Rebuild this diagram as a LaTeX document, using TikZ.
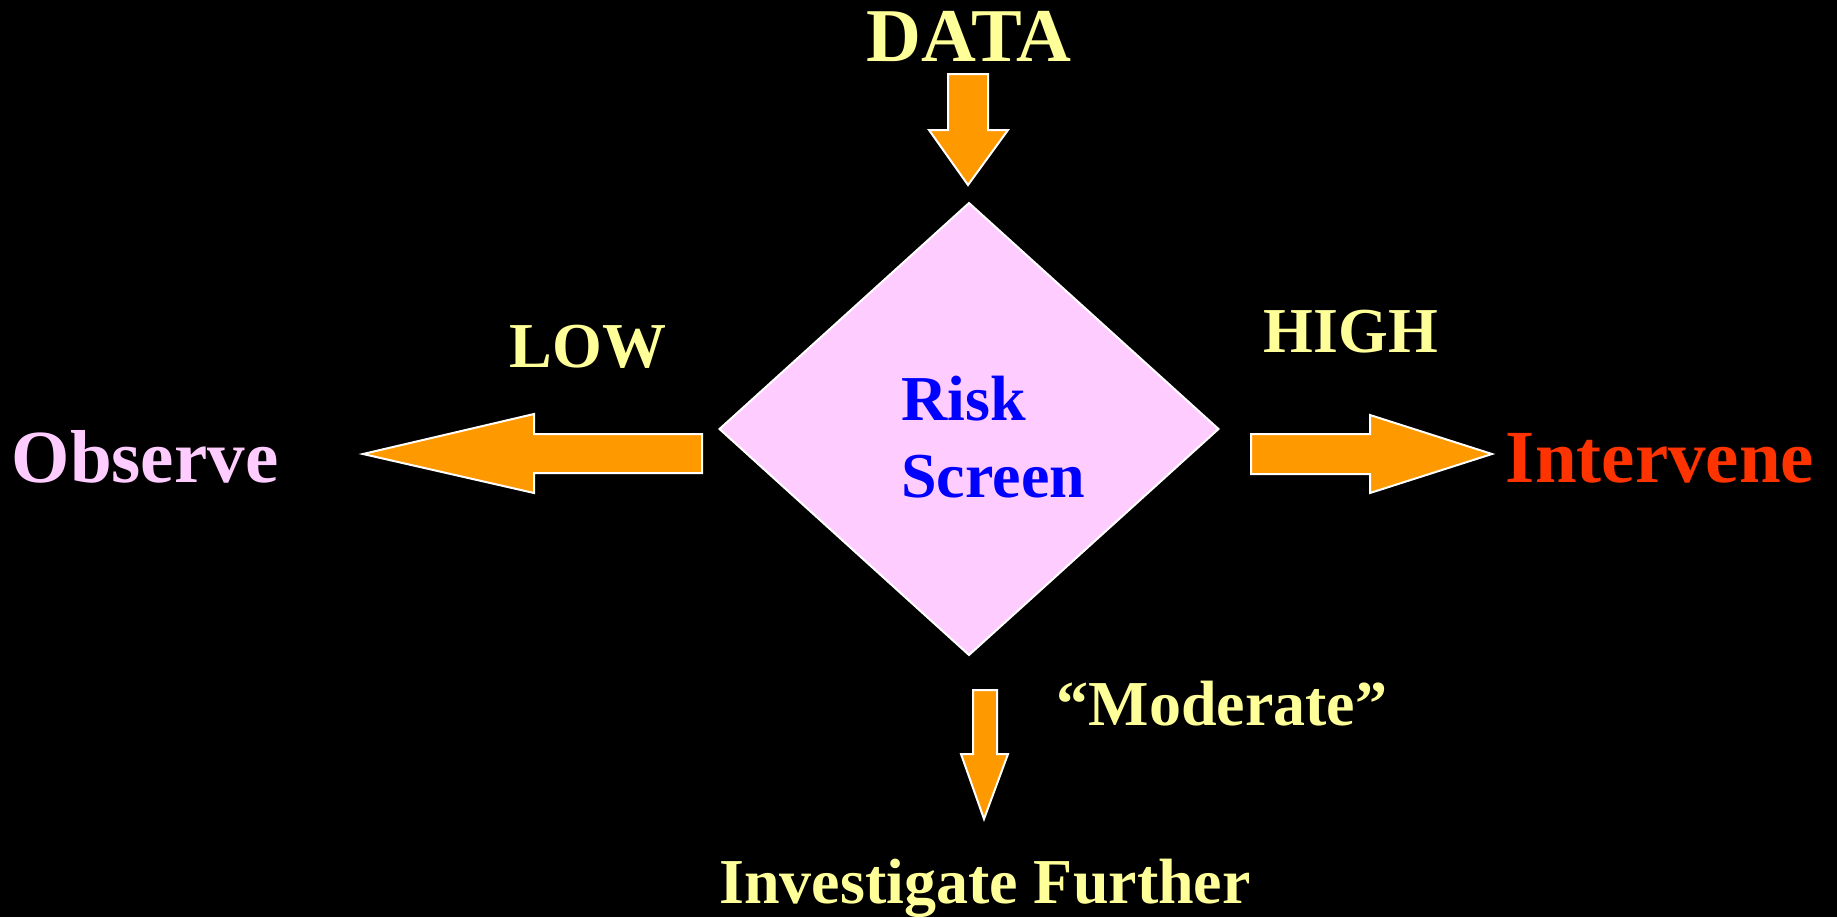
\documentclass[tikz,border=0pt]{standalone}
\usepackage{fontspec}
\setmainfont{Liberation Serif}
\usetikzlibrary{shapes.geometric}
\definecolor{blockorange}{HTML}{FF9900}
\definecolor{diamondpink}{HTML}{FFCCFF}
\definecolor{paleyellow}{HTML}{FFFF99}
\definecolor{riskblue}{HTML}{0000FF}
\definecolor{hotred}{HTML}{FF3300}
\tikzset{
  blockarrow/.style={fill=blockorange, draw=white, line width=1pt, line join=miter},
  lbl/.style={inner sep=0pt, anchor=base, font=\bfseries\fontsize{32}{38}\selectfont},
  biglbl/.style={inner sep=0pt, anchor=base, font=\bfseries\fontsize{38}{46}\selectfont},
}
\begin{document}
\begin{tikzpicture}[x=0.5pt,y=-0.5pt]
\fill[black] (0,0) rectangle (1837,917);
\useasboundingbox (0,0) rectangle (1837,917);

% diamond
\node[diamond, draw=white, line width=1pt, fill=diamondpink, inner sep=0pt, outer sep=0pt,
      minimum width=249.5pt, minimum height=226pt] (screen) at (969,429) {};
\node[inner sep=0pt, anchor=base west, align=left, text=riskblue,
      font=\bfseries\fontsize{32}{38.5}\selectfont] (risk) at (901,497) {Risk\\Screen};

% texts
\node[biglbl, text=paleyellow] (data) at (969,61) {DATA};
\node[biglbl, text=diamondpink, font=\bfseries\fontsize{37.5}{45}\selectfont] (observe) at (145,482) {Observe};
\node[biglbl, text=hotred, font=\bfseries\fontsize{37.5}{45}\selectfont] (intervene) at (1660,482) {Intervene};
\node[lbl, text=paleyellow] (low) at (588,367) {LOW};
\node[lbl, text=paleyellow] (high) at (1351,352) {HIGH};
\node[lbl, text=paleyellow] (moderate) at (1222,725) {“Moderate”};
\node[lbl, text=paleyellow] (investigate) at (985,903) {Investigate Further};

% block arrows
\draw[blockarrow] (948,74) -- (988,74) -- (988,130) -- (1008,130) -- (968,185) -- (929,130) -- (948,130) -- cycle;
\draw[blockarrow] (702,434) -- (702,473) -- (534,473) -- (534,493) -- (363,454) -- (534,414) -- (534,434) -- cycle;
\draw[blockarrow] (1251,434) -- (1251,474) -- (1370,474) -- (1370,493) -- (1492,454) -- (1370,415) -- (1370,434) -- cycle;
\draw[blockarrow] (973,690) -- (997,690) -- (997,754) -- (1008,754) -- (984,819) -- (961,754) -- (973,754) -- cycle;
\end{tikzpicture}
\end{document}
